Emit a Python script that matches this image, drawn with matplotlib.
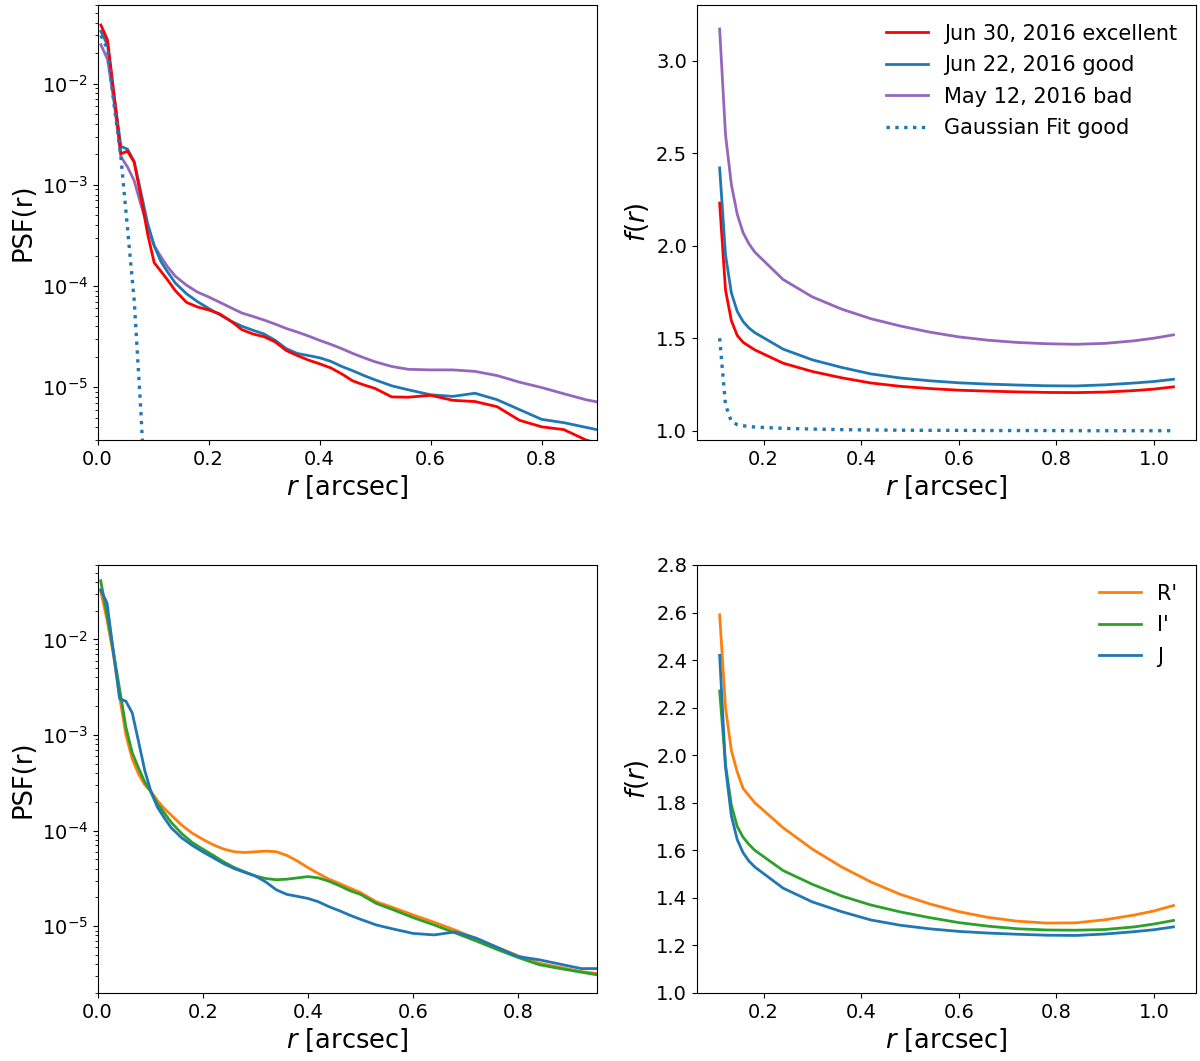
import numpy as np
import matplotlib
matplotlib.use('Agg')
import matplotlib.pyplot as plt

# radial grid of the PSF profiles [arcsec]
r_psf = [0.006, 0.018, 0.030, 0.042, 0.054, 0.066, 0.078, 0.090, 0.102, 0.114,
         0.126, 0.14, 0.16, 0.18, 0.20, 0.22, 0.24, 0.26, 0.28, 0.30,
         0.32, 0.34, 0.36, 0.38, 0.40, 0.42, 0.44, 0.46, 0.48, 0.50,
         0.53, 0.56, 0.60, 0.64, 0.68, 0.72, 0.76, 0.80, 0.84, 0.88,
         0.92, 0.95]

psf_excellent = [3.8e-2, 2.7e-2, 7.5e-3, 2.03e-3, 2.15e-3, 1.67e-3, 7.7e-4, 3.3e-4, 1.7e-4, 1.4e-4,
                 1.15e-4, 9.0e-5, 6.9e-5, 6.2e-5, 5.8e-5, 5.3e-5, 4.5e-5, 3.7e-5, 3.35e-5, 3.15e-5,
                 2.8e-5, 2.3e-5, 2.05e-5, 1.85e-5, 1.7e-5, 1.55e-5, 1.35e-5, 1.15e-5, 1.05e-5, 9.7e-6,
                 8.0e-6, 7.95e-6, 8.3e-6, 7.4e-6, 7.2e-6, 6.4e-6, 4.7e-6, 4.05e-6, 3.8e-6, 3.0e-6,
                 2.6e-6, 2.4e-6]

psf_good = [3.3e-2, 2.4e-2, 7.5e-3, 2.4e-3, 2.25e-3, 1.7e-3, 8.5e-4, 4.2e-4, 2.5e-4, 1.75e-4,
            1.38e-4, 1.07e-4, 8.4e-5, 7.0e-5, 6.0e-5, 5.2e-5, 4.5e-5, 4.0e-5, 3.65e-5, 3.35e-5,
            2.9e-5, 2.4e-5, 2.15e-5, 2.05e-5, 1.95e-5, 1.8e-5, 1.6e-5, 1.45e-5, 1.3e-5, 1.18e-5,
            1.03e-5, 9.4e-6, 8.4e-6, 8.1e-6, 8.7e-6, 7.5e-6, 6.0e-6, 4.8e-6, 4.45e-6, 4.0e-6,
            3.6e-6, 3.6e-6]

psf_bad = [2.43e-2, 1.74e-2, 6.4e-3, 1.9e-3, 1.5e-3, 1.1e-3, 6.4e-4, 3.9e-4, 2.5e-4, 1.95e-4,
           1.55e-4, 1.25e-4, 1.02e-4, 8.7e-5, 7.8e-5, 6.9e-5, 6.1e-5, 5.4e-5, 5.0e-5, 4.6e-5,
           4.2e-5, 3.8e-5, 3.5e-5, 3.2e-5, 2.9e-5, 2.65e-5, 2.4e-5, 2.15e-5, 1.95e-5, 1.78e-5,
           1.6e-5, 1.5e-5, 1.48e-5, 1.48e-5, 1.43e-5, 1.3e-5, 1.12e-5, 9.9e-6, 8.6e-6, 7.5e-6,
           6.8e-6, 6.4e-6]

psf_R = [3.2e-2, 1.6e-2, 7.0e-3, 2.5e-3, 1.0e-3, 5.6e-4, 3.9e-4, 3.0e-4, 2.55e-4, 2.05e-4,
         1.72e-4, 1.45e-4, 1.14e-4, 9.4e-5, 8.1e-5, 7.1e-5, 6.4e-5, 6.0e-5, 5.9e-5, 6.0e-5,
         6.1e-5, 6.0e-5, 5.5e-5, 4.8e-5, 4.1e-5, 3.55e-5, 3.1e-5, 2.8e-5, 2.5e-5, 2.25e-5,
         1.8e-5, 1.58e-5, 1.31e-5, 1.1e-5, 9.1e-6, 7.4e-6, 6.0e-6, 4.9e-6, 4.1e-6, 3.7e-6,
         3.35e-6, 3.2e-6]

psf_I = [4.1e-2, 1.8e-2, 7.5e-3, 3.0e-3, 1.2e-3, 6.5e-4, 4.5e-4, 3.2e-4, 2.5e-4, 1.9e-4,
         1.55e-4, 1.22e-4, 9.3e-5, 7.5e-5, 6.4e-5, 5.5e-5, 4.7e-5, 4.1e-5, 3.7e-5, 3.35e-5,
         3.15e-5, 3.06e-5, 3.1e-5, 3.2e-5, 3.3e-5, 3.2e-5, 2.95e-5, 2.65e-5, 2.35e-5, 2.15e-5,
         1.73e-5, 1.5e-5, 1.23e-5, 1.03e-5, 8.5e-6, 7.0e-6, 5.7e-6, 4.7e-6, 3.95e-6, 3.6e-6,
         3.3e-6, 3.1e-6]

# gaussian fit of the "good" night
r_gauss = [0.006, 0.018, 0.030, 0.042, 0.054, 0.066, 0.078, 0.090]
psf_gauss = [3.0e-2, 2.2e-2, 6.0e-3, 1.9e-3, 3.7e-4, 7.2e-5, 5.8e-6, 3.0e-7]

# f(r) profiles
r_f = [0.110, 0.122, 0.134, 0.146, 0.158, 0.170, 0.182, 0.24, 0.30, 0.36, 0.42,
       0.48, 0.54, 0.60, 0.66, 0.72, 0.78, 0.84, 0.90, 0.96, 1.00, 1.04]

f_excellent = [2.23, 1.76, 1.595, 1.515, 1.478, 1.457, 1.437, 1.365, 1.320, 1.286, 1.258,
               1.240, 1.228, 1.219, 1.214, 1.210, 1.207, 1.206, 1.209, 1.217, 1.225, 1.237]
f_good = [2.42, 1.95, 1.745, 1.645, 1.59, 1.555, 1.530, 1.441, 1.383, 1.342, 1.307,
          1.285, 1.270, 1.259, 1.252, 1.247, 1.243, 1.242, 1.248, 1.258, 1.266, 1.278]
f_bad = [3.17, 2.60, 2.33, 2.17, 2.07, 2.01, 1.965, 1.817, 1.723, 1.657, 1.605,
         1.566, 1.533, 1.507, 1.489, 1.477, 1.470, 1.467, 1.472, 1.486, 1.500, 1.518]
f_gauss = [1.50, 1.14, 1.05, 1.033, 1.027, 1.023, 1.020, 1.013, 1.009, 1.006, 1.004,
           1.003, 1.002, 1.002, 1.001, 1.001, 1.001, 1.0, 1.0, 1.0, 1.0, 1.0]
f_R = [2.59, 2.20, 2.02, 1.93, 1.86, 1.83, 1.80, 1.695, 1.605, 1.53, 1.467,
       1.415, 1.375, 1.342, 1.318, 1.302, 1.294, 1.295, 1.308, 1.328, 1.345, 1.368]
f_I = [2.27, 1.96, 1.79, 1.70, 1.655, 1.625, 1.60, 1.515, 1.457, 1.408, 1.37,
       1.341, 1.317, 1.296, 1.281, 1.27, 1.265, 1.264, 1.267, 1.278, 1.29, 1.305]

lw = 2.0
tick_fs = 14
label_fs = 18.5
legend_fs = 15

fig = plt.figure(figsize=(12, 10.61), dpi=100)
ax1 = fig.add_axes([0.0813, 0.5853, 0.4163, 0.41])
ax2 = fig.add_axes([0.5808, 0.5853, 0.416, 0.41])
ax3 = fig.add_axes([0.0813, 0.0641, 0.4163, 0.4034])
ax4 = fig.add_axes([0.5808, 0.0641, 0.416, 0.4034])

# top left: PSF for three nights
ax1.semilogy(r_psf, psf_excellent, color='r', lw=lw, zorder=3)
ax1.semilogy(r_psf, psf_good, color='tab:blue', lw=lw, zorder=2)
ax1.semilogy(r_psf, psf_bad, color='tab:purple', lw=lw, zorder=1)
ax1.semilogy(r_gauss, psf_gauss, color='tab:blue', ls=':', lw=2.4, zorder=4)
ax1.set_xlim(0, 0.9)
ax1.set_ylim(3e-6, 6e-2)
ax1.set_ylabel('PSF(r)', fontsize=label_fs)

# top right: f(r) for three nights
ax2.plot(r_f, f_excellent, color='r', lw=lw, label='Jun 30, 2016 excellent')
ax2.plot(r_f, f_good, color='tab:blue', lw=lw, label='Jun 22, 2016 good')
ax2.plot(r_f, f_bad, color='tab:purple', lw=lw, label='May 12, 2016 bad')
ax2.plot(r_f, f_gauss, color='tab:blue', ls=':', lw=2.4, label='Gaussian Fit good')
ax2.set_ylim(0.95, 3.3)
ax2.set_xticks([0.2, 0.4, 0.6, 0.8, 1.0])
ax2.set_yticks([1.0, 1.5, 2.0, 2.5, 3.0])
ax2.set_ylabel('$f(r)$', fontsize=label_fs)
ax2.legend(loc='upper right', frameon=False, fontsize=legend_fs, labelspacing=0.55)

# bottom left: PSF per band
ax3.semilogy(r_psf, psf_R, color='tab:orange', lw=lw)
ax3.semilogy(r_psf, psf_I, color='tab:green', lw=lw)
ax3.semilogy(r_psf, psf_good, color='tab:blue', lw=lw)
ax3.set_xlim(0, 0.95)
ax3.set_ylim(2e-6, 6e-2)
ax3.set_ylabel('PSF(r)', fontsize=label_fs)

# bottom right: f(r) per band
ax4.plot(r_f, f_R, color='tab:orange', lw=lw, label="R'")
ax4.plot(r_f, f_I, color='tab:green', lw=lw, label="I'")
ax4.plot(r_f, f_good, color='tab:blue', lw=lw, label='J')
ax4.set_ylim(1.0, 2.8)
ax4.set_xticks([0.2, 0.4, 0.6, 0.8, 1.0])
ax4.set_yticks(np.arange(1.0, 2.81, 0.2))
ax4.set_ylabel('$f(r)$', fontsize=label_fs)
ax4.legend(loc='upper right', frameon=False, fontsize=legend_fs, labelspacing=0.55)

for ax in [ax1, ax2, ax3, ax4]:
    ax.set_xlabel('$r$ [arcsec]', fontsize=label_fs)
    ax.tick_params(labelsize=tick_fs)

plt.savefig('out.png', dpi=100)
